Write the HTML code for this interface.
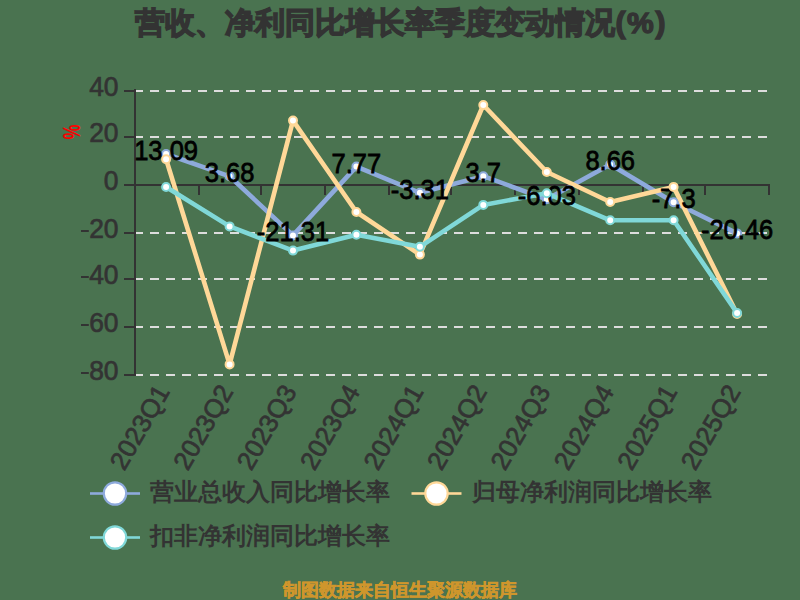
<!DOCTYPE html><html><head><meta charset="utf-8"><style>html,body{margin:0;padding:0;background:#4a7350;}svg{display:block;}text{font-family:"Liberation Sans",sans-serif;}</style></head><body>
<svg width="800" height="600" viewBox="0 0 800 600">
<rect x="0" y="0" width="800" height="600" fill="#4a7350"/>
<text x="400.5" y="33" text-anchor="middle" font-size="30" font-weight="bold" fill="#333333" stroke="#333333" stroke-width="1.4">营收、净利同比增长率季度变动情况(<tspan dx="1.5">%</tspan><tspan dx="2">)</tspan></text>
<text transform="translate(71.5,132) rotate(90) scale(0.7,1)" x="0" y="8.5" text-anchor="middle" font-size="24" font-weight="bold" fill="#ff0000">%</text>
<line x1="134" y1="91" x2="768" y2="91" stroke="#dddddd" stroke-width="2" stroke-dasharray="9 7"/>
<line x1="134" y1="137" x2="768" y2="137" stroke="#dddddd" stroke-width="2" stroke-dasharray="9 7"/>
<line x1="134" y1="233" x2="768" y2="233" stroke="#dddddd" stroke-width="2" stroke-dasharray="9 7"/>
<line x1="134" y1="279" x2="768" y2="279" stroke="#dddddd" stroke-width="2" stroke-dasharray="9 7"/>
<line x1="134" y1="327" x2="768" y2="327" stroke="#dddddd" stroke-width="2" stroke-dasharray="9 7"/>
<line x1="134" y1="375" x2="768" y2="375" stroke="#dddddd" stroke-width="2" stroke-dasharray="9 7"/>
<rect x="134" y="89" width="2" height="287" fill="#333333"/>
<rect x="124" y="90" width="10" height="2" fill="#333333"/>
<rect x="124" y="136" width="10" height="2" fill="#333333"/>
<rect x="124" y="184" width="10" height="2" fill="#333333"/>
<rect x="124" y="232" width="10" height="2" fill="#333333"/>
<rect x="124" y="278" width="10" height="2" fill="#333333"/>
<rect x="124" y="326" width="10" height="2" fill="#333333"/>
<rect x="124" y="374" width="10" height="2" fill="#333333"/>
<rect x="134" y="184" width="636" height="2" fill="#333333"/>
<rect x="198" y="184" width="2" height="11" fill="#333333"/>
<rect x="260" y="184" width="2" height="11" fill="#333333"/>
<rect x="324" y="184" width="2" height="11" fill="#333333"/>
<rect x="388" y="184" width="2" height="11" fill="#333333"/>
<rect x="450" y="184" width="2" height="11" fill="#333333"/>
<rect x="514" y="184" width="2" height="11" fill="#333333"/>
<rect x="578" y="184" width="2" height="11" fill="#333333"/>
<rect x="642" y="184" width="2" height="11" fill="#333333"/>
<rect x="704" y="184" width="2" height="11" fill="#333333"/>
<rect x="768" y="184" width="2" height="11" fill="#333333"/>
<text transform="translate(118.5,96) scale(0.96,1)" text-anchor="end" font-size="27.5" fill="#333333" stroke="#333333" stroke-width="0.7">40</text>
<text transform="translate(118.5,142) scale(0.96,1)" text-anchor="end" font-size="27.5" fill="#333333" stroke="#333333" stroke-width="0.7">20</text>
<text transform="translate(118.5,190) scale(0.96,1)" text-anchor="end" font-size="27.5" fill="#333333" stroke="#333333" stroke-width="0.7">0</text>
<text transform="translate(118.5,238) scale(0.96,1)" text-anchor="end" font-size="27.5" fill="#333333" stroke="#333333" stroke-width="0.7">20</text>
<rect x="81" y="230" width="7.8" height="2" fill="#333333"/>
<text transform="translate(118.5,284) scale(0.96,1)" text-anchor="end" font-size="27.5" fill="#333333" stroke="#333333" stroke-width="0.7">40</text>
<rect x="81" y="276" width="7.8" height="2" fill="#333333"/>
<text transform="translate(118.5,332) scale(0.96,1)" text-anchor="end" font-size="27.5" fill="#333333" stroke="#333333" stroke-width="0.7">60</text>
<rect x="81" y="324" width="7.8" height="2" fill="#333333"/>
<text transform="translate(118.5,380) scale(0.96,1)" text-anchor="end" font-size="27.5" fill="#333333" stroke="#333333" stroke-width="0.7">80</text>
<rect x="81" y="372" width="7.8" height="2" fill="#333333"/>
<text transform="translate(163.6,387.5) rotate(-60)" x="0" y="8" text-anchor="end" font-size="26" fill="#333333" stroke="#333333" stroke-width="0.7">2023Q1</text>
<text transform="translate(227.1,387.5) rotate(-60)" x="0" y="8" text-anchor="end" font-size="26" fill="#333333" stroke="#333333" stroke-width="0.7">2023Q2</text>
<text transform="translate(290.5,387.5) rotate(-60)" x="0" y="8" text-anchor="end" font-size="26" fill="#333333" stroke="#333333" stroke-width="0.7">2023Q3</text>
<text transform="translate(353.9,387.5) rotate(-60)" x="0" y="8" text-anchor="end" font-size="26" fill="#333333" stroke="#333333" stroke-width="0.7">2023Q4</text>
<text transform="translate(417.4,387.5) rotate(-60)" x="0" y="8" text-anchor="end" font-size="26" fill="#333333" stroke="#333333" stroke-width="0.7">2024Q1</text>
<text transform="translate(480.8,387.5) rotate(-60)" x="0" y="8" text-anchor="end" font-size="26" fill="#333333" stroke="#333333" stroke-width="0.7">2024Q2</text>
<text transform="translate(544.3,387.5) rotate(-60)" x="0" y="8" text-anchor="end" font-size="26" fill="#333333" stroke="#333333" stroke-width="0.7">2024Q3</text>
<text transform="translate(607.7,387.5) rotate(-60)" x="0" y="8" text-anchor="end" font-size="26" fill="#333333" stroke="#333333" stroke-width="0.7">2024Q4</text>
<text transform="translate(671.1,387.5) rotate(-60)" x="0" y="8" text-anchor="end" font-size="26" fill="#333333" stroke="#333333" stroke-width="0.7">2025Q1</text>
<text transform="translate(734.6,387.5) rotate(-60)" x="0" y="8" text-anchor="end" font-size="26" fill="#333333" stroke="#333333" stroke-width="0.7">2025Q2</text>
<polyline points="166.1,154.0 229.6,176.3 293.0,235.4 356.4,166.6 419.9,192.8 483.3,176.2 546.8,199.3 610.2,164.5 673.6,202.3 737.1,233.4" fill="none" stroke="#8eaadc" stroke-width="4.6" stroke-linejoin="round"/>
<polyline points="166.1,159.3 229.6,364.4 293.0,120.6 356.4,212.0 419.9,254.6 483.3,105.0 546.8,172.0 610.2,202.0 673.6,186.9 737.1,314.0" fill="none" stroke="#ffd898" stroke-width="4.6" stroke-linejoin="round"/>
<polyline points="166.1,187.0 229.6,226.4 293.0,250.6 356.4,234.7 419.9,246.8 483.3,204.9 546.8,193.3 610.2,220.3 673.6,220.3 737.1,313.0" fill="none" stroke="#80d8d8" stroke-width="4.6" stroke-linejoin="round"/>
<circle cx="166.1" cy="154.0" r="4" fill="#fff" stroke="#8eaadc" stroke-width="2"/><circle cx="229.6" cy="176.3" r="4" fill="#fff" stroke="#8eaadc" stroke-width="2"/><circle cx="293.0" cy="235.4" r="4" fill="#fff" stroke="#8eaadc" stroke-width="2"/><circle cx="356.4" cy="166.6" r="4" fill="#fff" stroke="#8eaadc" stroke-width="2"/><circle cx="419.9" cy="192.8" r="4" fill="#fff" stroke="#8eaadc" stroke-width="2"/><circle cx="483.3" cy="176.2" r="4" fill="#fff" stroke="#8eaadc" stroke-width="2"/><circle cx="546.8" cy="199.3" r="4" fill="#fff" stroke="#8eaadc" stroke-width="2"/><circle cx="610.2" cy="164.5" r="4" fill="#fff" stroke="#8eaadc" stroke-width="2"/><circle cx="673.6" cy="202.3" r="4" fill="#fff" stroke="#8eaadc" stroke-width="2"/><circle cx="737.1" cy="233.4" r="4" fill="#fff" stroke="#8eaadc" stroke-width="2"/>
<text transform="translate(166.1,159.9) scale(0.895,1)" text-anchor="middle" font-size="28.5" fill="#000" stroke="#000" stroke-width="0.8">13.09</text>
<text transform="translate(229.6,182.2) scale(0.895,1)" text-anchor="middle" font-size="28.5" fill="#000" stroke="#000" stroke-width="0.8">3.68</text>
<text transform="translate(293.0,241.3) scale(0.895,1)" text-anchor="middle" font-size="28.5" fill="#000" stroke="#000" stroke-width="0.8">-21.31</text>
<text transform="translate(356.4,172.5) scale(0.895,1)" text-anchor="middle" font-size="28.5" fill="#000" stroke="#000" stroke-width="0.8">7.77</text>
<text transform="translate(419.9,198.7) scale(0.895,1)" text-anchor="middle" font-size="28.5" fill="#000" stroke="#000" stroke-width="0.8">-3.31</text>
<text transform="translate(483.3,182.1) scale(0.895,1)" text-anchor="middle" font-size="28.5" fill="#000" stroke="#000" stroke-width="0.8">3.7</text>
<text transform="translate(546.8,205.2) scale(0.895,1)" text-anchor="middle" font-size="28.5" fill="#000" stroke="#000" stroke-width="0.8">-6.03</text>
<text transform="translate(610.2,170.4) scale(0.895,1)" text-anchor="middle" font-size="28.5" fill="#000" stroke="#000" stroke-width="0.8">8.66</text>
<text transform="translate(673.6,208.2) scale(0.895,1)" text-anchor="middle" font-size="28.5" fill="#000" stroke="#000" stroke-width="0.8">-7.3</text>
<text transform="translate(737.1,239.3) scale(0.895,1)" text-anchor="middle" font-size="28.5" fill="#000" stroke="#000" stroke-width="0.8">-20.46</text>
<circle cx="166.1" cy="159.3" r="4" fill="#fff" stroke="#ffd898" stroke-width="2"/><circle cx="229.6" cy="364.4" r="4" fill="#fff" stroke="#ffd898" stroke-width="2"/><circle cx="293.0" cy="120.6" r="4" fill="#fff" stroke="#ffd898" stroke-width="2"/><circle cx="356.4" cy="212.0" r="4" fill="#fff" stroke="#ffd898" stroke-width="2"/><circle cx="419.9" cy="254.6" r="4" fill="#fff" stroke="#ffd898" stroke-width="2"/><circle cx="483.3" cy="105.0" r="4" fill="#fff" stroke="#ffd898" stroke-width="2"/><circle cx="546.8" cy="172.0" r="4" fill="#fff" stroke="#ffd898" stroke-width="2"/><circle cx="610.2" cy="202.0" r="4" fill="#fff" stroke="#ffd898" stroke-width="2"/><circle cx="673.6" cy="186.9" r="4" fill="#fff" stroke="#ffd898" stroke-width="2"/><circle cx="737.1" cy="314.0" r="4" fill="#fff" stroke="#ffd898" stroke-width="2"/>
<circle cx="166.1" cy="187.0" r="4" fill="#fff" stroke="#80d8d8" stroke-width="2"/><circle cx="229.6" cy="226.4" r="4" fill="#fff" stroke="#80d8d8" stroke-width="2"/><circle cx="293.0" cy="250.6" r="4" fill="#fff" stroke="#80d8d8" stroke-width="2"/><circle cx="356.4" cy="234.7" r="4" fill="#fff" stroke="#80d8d8" stroke-width="2"/><circle cx="419.9" cy="246.8" r="4" fill="#fff" stroke="#80d8d8" stroke-width="2"/><circle cx="483.3" cy="204.9" r="4" fill="#fff" stroke="#80d8d8" stroke-width="2"/><circle cx="546.8" cy="193.3" r="4" fill="#fff" stroke="#80d8d8" stroke-width="2"/><circle cx="610.2" cy="220.3" r="4" fill="#fff" stroke="#80d8d8" stroke-width="2"/><circle cx="673.6" cy="220.3" r="4" fill="#fff" stroke="#80d8d8" stroke-width="2"/><circle cx="737.1" cy="313.0" r="4" fill="#fff" stroke="#80d8d8" stroke-width="2"/>
<rect x="90.0" y="492.2" width="50" height="2.6" fill="#8eaadc"/><circle cx="115.0" cy="493.5" r="11.2" fill="#fff" stroke="#8eaadc" stroke-width="2.2"/><text x="150.0" y="499.5" font-size="24" font-weight="bold" fill="#333333">营业总收入同比增长率</text>
<rect x="411.5" y="492.2" width="50" height="2.6" fill="#ffd898"/><circle cx="436.5" cy="493.5" r="11.2" fill="#fff" stroke="#ffd898" stroke-width="2.2"/><text x="471.5" y="499.5" font-size="24" font-weight="bold" fill="#333333">归母净利润同比增长率</text>
<rect x="90.0" y="536.2" width="50" height="2.6" fill="#80d8d8"/><circle cx="115.0" cy="537.5" r="11.2" fill="#fff" stroke="#80d8d8" stroke-width="2.2"/><text x="150.0" y="543.5" font-size="24" font-weight="bold" fill="#333333">扣非净利润同比增长率</text>
<text x="400" y="596" text-anchor="middle" font-size="18" font-weight="bold" fill="#cf962c" stroke="#cf962c" stroke-width="0.5">制图数据来自恒生聚源数据库</text>
</svg></body></html>
